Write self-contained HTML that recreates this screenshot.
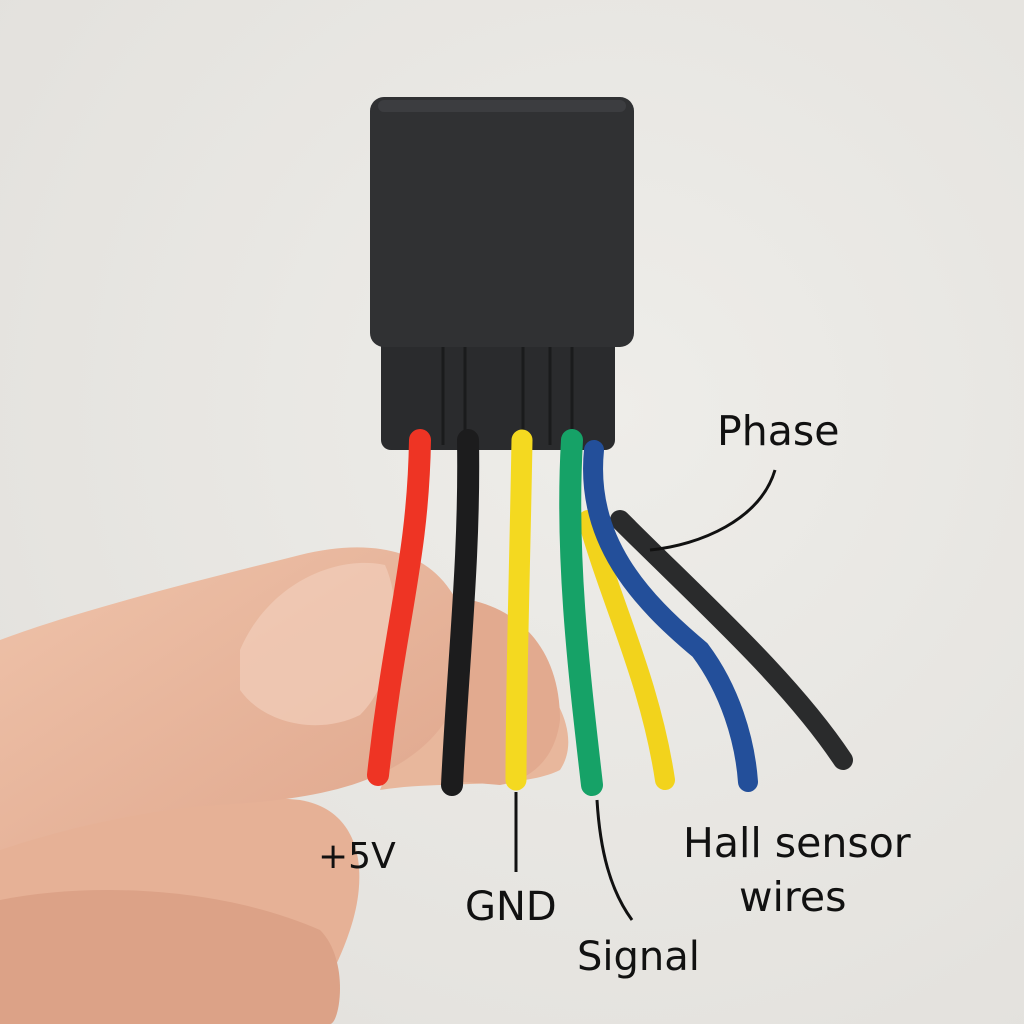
<!DOCTYPE html>
<html><head><meta charset="utf-8"><style>
html,body{margin:0;padding:0;background:#e9e8e5;}
svg{display:block}
text{font-family:"DejaVu Sans","Liberation Sans",sans-serif;fill:#111}
</style></head><body>
<svg width="1024" height="1024" viewBox="0 0 1024 1024">
<defs>
<radialGradient id="bg" cx="0.6" cy="0.4" r="0.8"><stop offset="0" stop-color="#eeede9"/><stop offset="1" stop-color="#e2e0dc"/></radialGradient>
<linearGradient id="skin" x1="0" y1="0" x2="1" y2="1"><stop offset="0" stop-color="#efc3aa"/><stop offset="1" stop-color="#dfa68c"/></linearGradient>
</defs>
<rect width="1024" height="1024" fill="url(#bg)"/>
<path d="M0,830 C80,800 200,790 300,800 C360,810 370,870 350,930 C330,990 300,1024 280,1024 L0,1024 Z" fill="#e6b196"/>
<path d="M0,900 C100,880 230,890 320,930 C350,960 340,1024 330,1024 L0,1024Z" fill="#dca287"/>
<path d="M380,790 C440,780 520,790 560,770 C580,740 560,700 540,680 L420,690 Z" fill="#e8b79c"/>
<path d="M0,640 C80,610 200,580 300,555 C360,540 420,545 450,590 C480,630 470,700 430,740 C380,790 300,800 220,805 C140,810 60,830 0,850 Z" fill="url(#skin)"/>
<path d="M240,650 C270,580 340,555 385,565 C405,610 395,680 360,715 C320,735 265,725 240,690 Z" fill="#f0cab6" opacity="0.8"/>
<path d="M470,600 C520,610 560,650 560,720 C555,760 530,780 500,785 L440,780 Z" fill="#e2aa8f"/>
<rect x="381" y="315" width="234" height="135" rx="10" fill="#2a2b2d"/>
<g stroke="#1a1b1c" stroke-width="3">
<line x1="443" y1="330" x2="443" y2="445"/><line x1="465" y1="330" x2="465" y2="445"/>
<line x1="523" y1="330" x2="523" y2="445"/><line x1="550" y1="330" x2="550" y2="445"/><line x1="572" y1="330" x2="572" y2="445"/>
</g>
<rect x="370" y="97" width="264" height="250" rx="14" fill="#303133"/>
<rect x="378" y="100" width="248" height="12" rx="6" fill="#3c3d40"/>
<g fill="none" stroke-linecap="round">
<path d="M420,440 C418,560 395,620 378,775" stroke="#ee3424" stroke-width="22"/>
<path d="M468,440 C470,560 458,660 452,785" stroke="#1c1c1d" stroke-width="22"/>
<path d="M522,440 C520,560 516,680 516,780" stroke="#f4d920" stroke-width="21"/>
<path d="M588,520 C610,600 650,680 665,780" stroke="#f2d31c" stroke-width="20"/>
<path d="M572,440 C565,560 580,680 592,785" stroke="#16a267" stroke-width="22"/>
<path d="M620,520 C700,600 790,680 843,760" stroke="#2a2b2c" stroke-width="20"/>
<path d="M594,450 C585,540 640,600 700,650 C730,690 745,740 748,782" stroke="#234f9a" stroke-width="20"/>
</g>
<g fill="none" stroke="#111" stroke-width="3">
<path d="M775,470 C760,520 700,545 650,550"/>
<line x1="516" y1="792" x2="516" y2="872"/>
<path d="M597,800 C600,850 610,890 632,920"/>
</g>
<text x="717" y="445" font-size="41">Phase</text>
<text x="318" y="868" font-size="36">+5V</text>
<text x="465" y="920" font-size="40">GND</text>
<text x="577" y="970" font-size="40">Signal</text>
<text x="683" y="857" font-size="41">Hall sensor</text>
<text x="739" y="911" font-size="41">wires</text>
</svg>
</body></html>
